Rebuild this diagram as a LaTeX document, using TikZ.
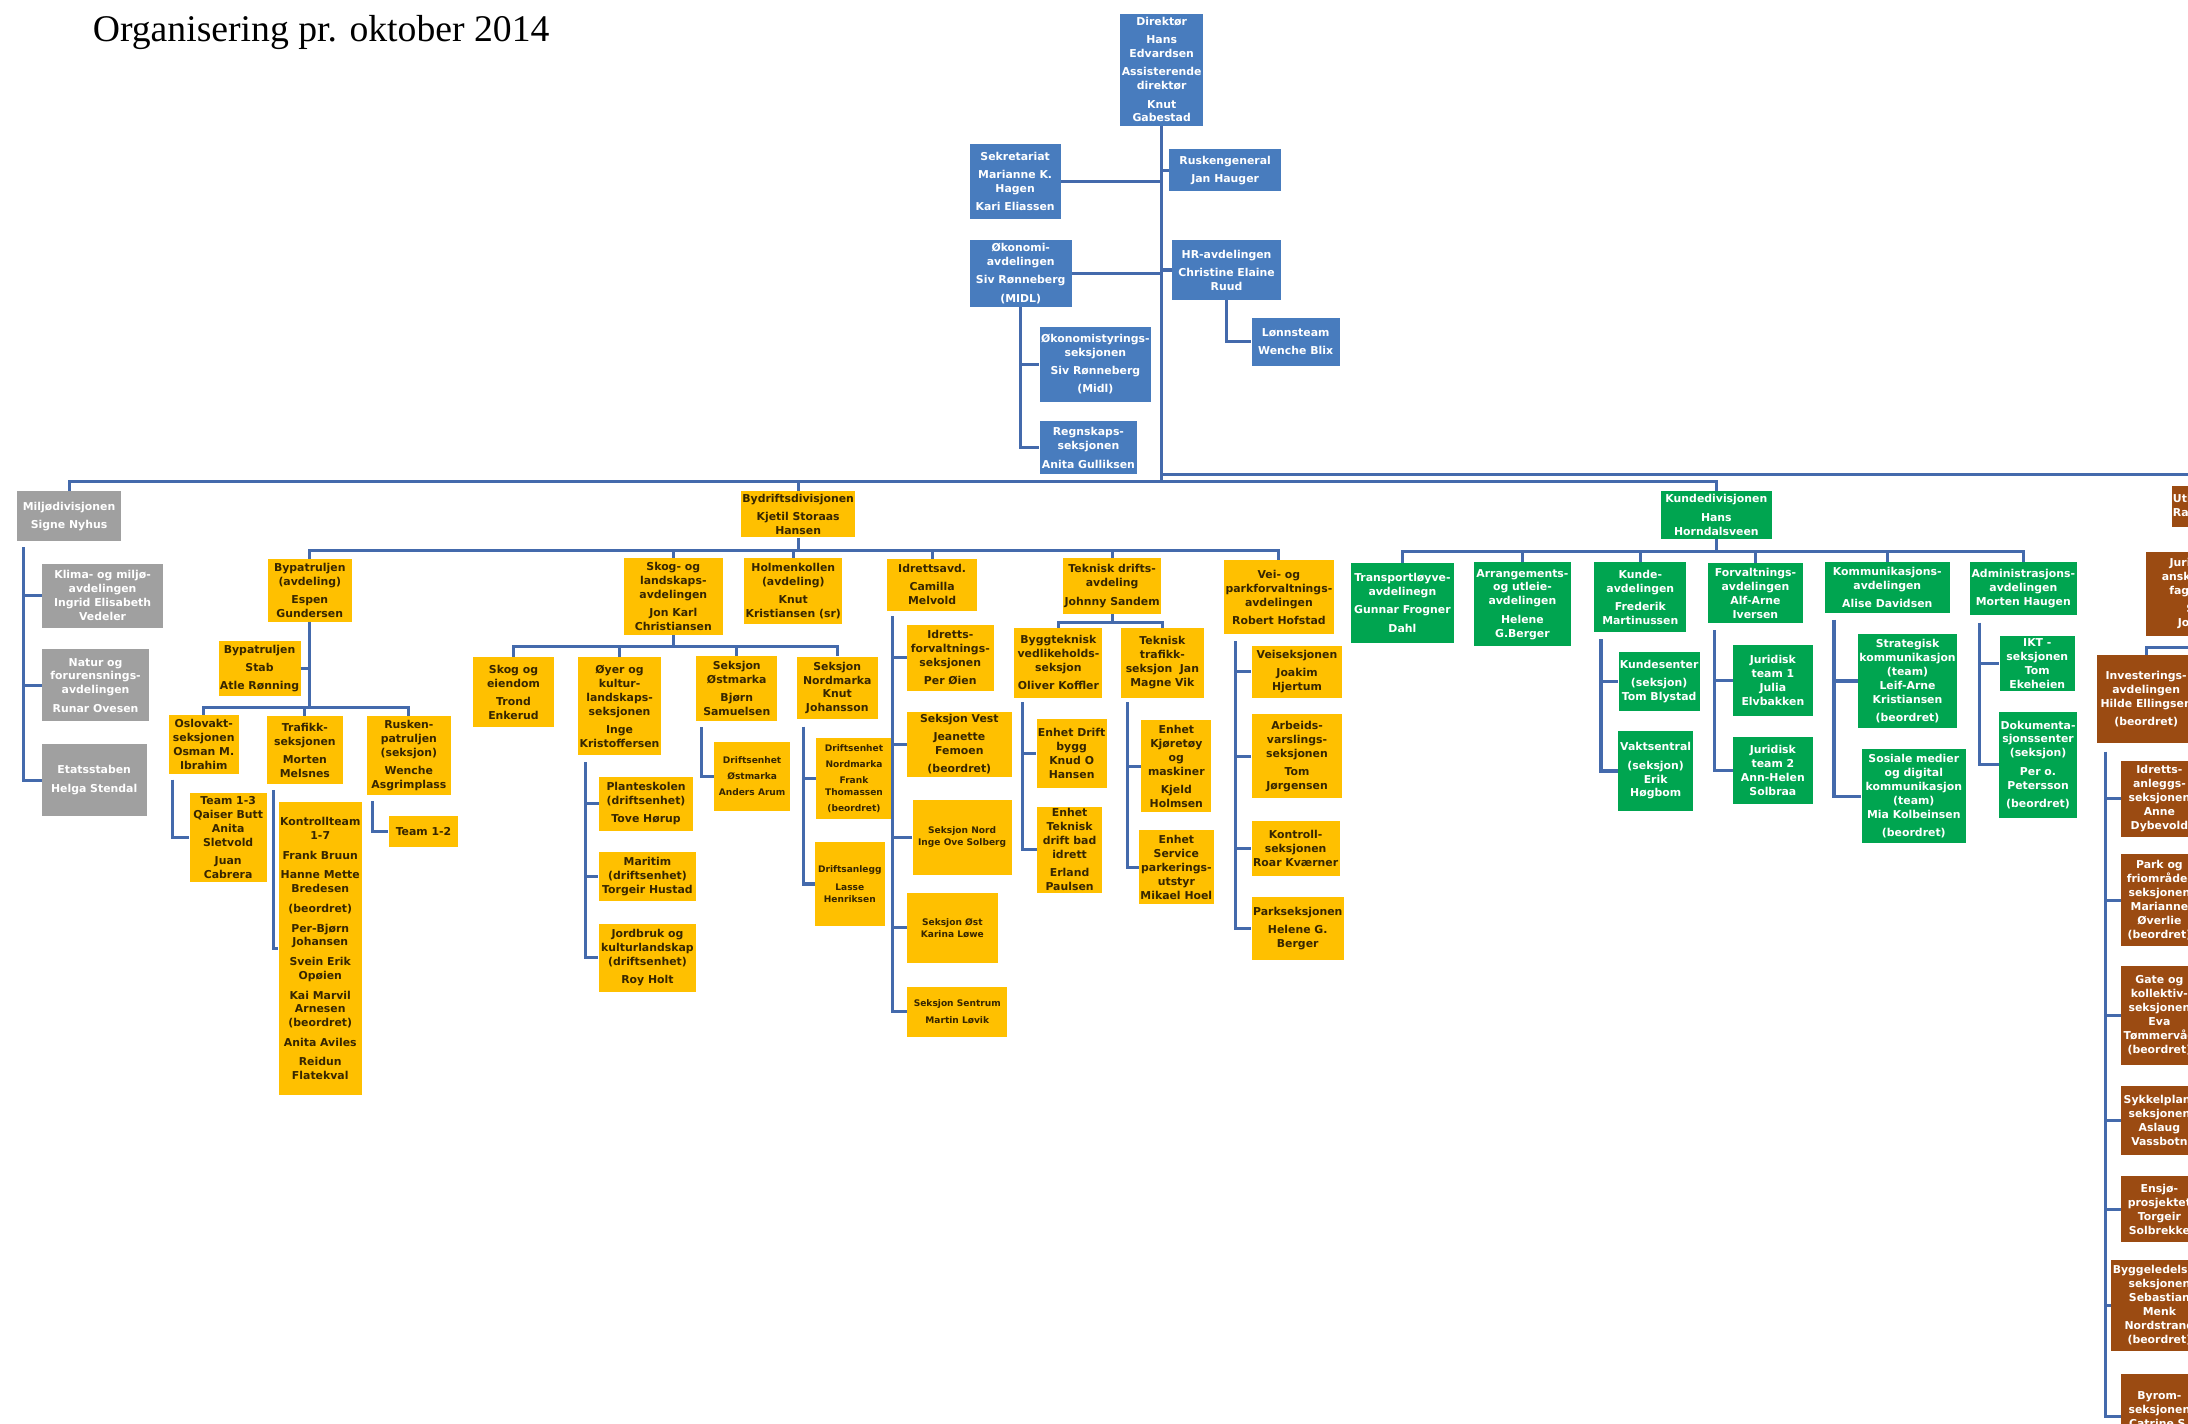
\documentclass[tikz,border=0pt]{standalone}
\usepackage{fontspec}
\setmainfont{Liberation Serif}
\newfontfamily\orgfont{DejaVu Sans}
\usetikzlibrary{positioning,calc}
\definecolor{orgblue}{RGB}{72,124,190}
\definecolor{orggray}{RGB}{160,160,160}
\definecolor{orgyellow}{RGB}{255,192,0}
\definecolor{orggreen}{RGB}{0,165,80}
\definecolor{orgbrown}{RGB}{155,75,18}
\definecolor{linkblue}{RGB}{68,106,172}
\definecolor{darktext}{RGB}{55,38,0}
\tikzset{
	orgunit/.style={rectangle,inner sep=1pt,align=center,font=\orgfont\bfseries\fontsize{7.8}{10}\selectfont},
	blueunit/.style={orgunit,fill=orgblue,text=white},
	grayunit/.style={orgunit,fill=orggray,text=white},
	yelunit/.style={orgunit,fill=orgyellow,text=darktext},
	greenunit/.style={orgunit,fill=orggreen,text=white},
	brownunit/.style={orgunit,fill=orgbrown,text=white},
	smalltext/.style={font=\orgfont\bfseries\fontsize{6.5}{8.5}\selectfont},
	boxsize/.style 2 args={minimum width=#1,minimum height=#2},
	orglink/.style={draw=linkblue,line width=2.2pt},
	titletext/.style={font=\fontsize{27}{30}\selectfont,anchor=base west}
}
\begin{document}
\begin{tikzpicture}[x=1pt,y=-1pt]
	\path[use as bounding box,fill=white] (0,0) rectangle (1568,1020);
	\node[titletext] (title) at (63,30) {Organisering pr. oktober 2014};

	%%%% direktor og stab
	\node[blueunit,boxsize={55}{80}] (dir) at (832.5,50) {Direktør\\[3pt]Hans\\Edvardsen\\[3pt]Assisterende\\direktør\\[3pt]Knut\\Gabestad};
	\node[blueunit,boxsize={65}{54}] (sekr) at (727.5,130) {Sekretariat\\[3pt]Marianne K.\\Hagen\\[3pt]Kari Eliassen};
	\node[blueunit,boxsize={80}{30}] (rusk) at (878,122) {Ruskengeneral\\[3pt]Jan Hauger};
	\node[blueunit,boxsize={73}{48}] (okon) at (731.5,196) {Økonomi-\\avdelingen\\[3pt]Siv Rønneberg\\[3pt](MIDL)};
	\node[blueunit,boxsize={78}{43}] (hr) at (879,193.5) {HR-avdelingen\\[3pt]Christine Elaine\\Ruud};
	\node[blueunit,boxsize={63}{34}] (lonn) at (928.5,245) {Lønnsteam\\[3pt]Wenche Blix};
	\node[blueunit,boxsize={80}{54}] (okst) at (785,261) {Økonomistyrings-\\seksjonen\\[3pt]Siv Rønneberg\\[3pt](Midl)};
	\node[blueunit,boxsize={70}{38}] (regn) at (780,321) {Regnskaps-\\seksjonen\\[3pt]Anita Gulliksen};

	%%%% divisjoner
	\node[grayunit,boxsize={75}{36}] (milj) at (49.5,370) {Miljødivisjonen\\[3pt]Signe Nyhus};
	\node[yelunit,boxsize={82}{33}] (bydr) at (572,368.5) {Bydriftsdivisjonen\\[3pt]Kjetil Storaas\\Hansen};
	\node[greenunit,boxsize={80}{34}] (kund) at (1230,369) {Kundedivisjonen\\[3pt]Hans\\Horndalsveen};
	\node[brownunit,boxsize={90}{30},anchor=west,align=left] (utb) at (1556,363) {Utbyggingsdivisjonen\\Ragnhild};

	%%%% miljo
	\node[grayunit,boxsize={87}{46}] (klima) at (73.5,427) {Klima- og miljø-\\avdelingen\\Ingrid Elisabeth\\Vedeler};
	\node[grayunit,boxsize={77}{52}] (natur) at (68.5,491) {Natur og\\forurensnings-\\avdelingen\\[3pt]Runar Ovesen};
	\node[grayunit,boxsize={75}{52}] (etat) at (67.5,559) {Etatsstaben\\[3pt]Helga Stendal};

	%%%% bydrift, avdelinger
	\node[yelunit,boxsize={60}{45}] (byp) at (222,423) {Bypatruljen\\(avdeling)\\[3pt]Espen\\Gundersen};
	\node[yelunit,boxsize={71}{55}] (skog) at (482.5,427.5) {Skog- og\\landskaps-\\avdelingen\\[3pt]Jon Karl\\Christiansen};
	\node[yelunit,boxsize={67}{47}] (holm) at (568.5,423.5) {Holmenkollen\\(avdeling)\\[3pt]Knut\\Kristiansen (sr)};
	\node[yelunit,boxsize={64}{37}] (idr) at (668,419) {Idrettsavd.\\[3pt]Camilla\\Melvold};
	\node[yelunit,boxsize={70}{40}] (tek) at (797,420) {Teknisk drifts-\\avdeling\\[3pt]Johnny Sandem};
	\node[yelunit,boxsize={77}{53}] (vei) at (916.5,428) {Vei- og\\parkforvaltnings-\\avdelingen\\[3pt]Robert Hofstad};

	%%%% bypatruljen
	\node[yelunit,boxsize={58}{40}] (bstab) at (186,479) {Bypatruljen\\[3pt]Stab\\[3pt]Atle Rønning};
	\node[yelunit,boxsize={50}{42}] (oslo) at (146,533.5) {Oslovakt-\\seksjonen\\Osman M.\\Ibrahim};
	\node[yelunit,boxsize={55}{49}] (traf) at (218.5,537.5) {Trafikk-\\seksjonen\\[3pt]Morten\\Melsnes};
	\node[yelunit,boxsize={60}{57}] (rsk) at (293,541.5) {Rusken-\\patruljen\\(seksjon)\\[3pt]Wenche\\Asgrimplass};
	\node[yelunit,boxsize={55}{64}] (team13) at (163.5,600) {Team 1-3\\Qaiser Butt\\Anita\\Sletvold\\[3pt]Juan\\Cabrera};
	\node[yelunit,boxsize={57}{210}] (kontr) at (229.5,680) {Kontrollteam\\1-7\\[4pt]Frank Bruun\\[4pt]Hanne Mette\\Bredesen\\[4pt](beordret)\\[4pt]Per-Bjørn\\Johansen\\[4pt]Svein Erik\\Opøien\\[4pt]Kai Marvil\\Arnesen\\(beordret)\\[4pt]Anita Aviles\\[4pt]Reidun\\Flatekval};
	\node[yelunit,boxsize={50}{22}] (team12) at (303.5,596) {Team 1-2};

	%%%% skog og landskap
	\node[yelunit,boxsize={58}{50}] (skeie) at (368,496) {Skog og\\eiendom\\[3pt]Trond\\Enkerud};
	\node[yelunit,boxsize={60}{70}] (oyer) at (444,506) {Øyer og\\kultur-\\landskaps-\\seksjonen\\[3pt]Inge\\Kristoffersen};
	\node[yelunit,boxsize={58}{47}] (ostm) at (528,493.5) {Seksjon\\Østmarka\\[3pt]Bjørn\\Samuelsen};
	\node[yelunit,boxsize={58}{45}] (nordm) at (600,493) {Seksjon\\Nordmarka\\Knut\\Johansson};
	\node[yelunit,boxsize={67}{39}] (plant) at (463,576) {Planteskolen\\(driftsenhet)\\[3pt]Tove Hørup};
	\node[yelunit,boxsize={70}{35}] (marit) at (464,628) {Maritim\\(driftsenhet)\\Torgeir Hustad};
	\node[yelunit,boxsize={70}{49}] (jord) at (464,686.5) {Jordbruk og\\kulturlandskap\\(driftsenhet)\\[3pt]Roy Holt};
	\node[yelunit,smalltext,boxsize={54}{49}] (doest) at (539,556.5) {Driftsenhet\\[3pt]Østmarka\\[3pt]Anders Arum};
	\node[yelunit,smalltext,boxsize={54}{58}] (dnord) at (612,558) {Driftsenhet\\[3pt]Nordmarka\\[3pt]Frank\\Thomassen\\[3pt](beordret)};
	\node[yelunit,smalltext,boxsize={50}{60}] (dranl) at (609,633.5) {Driftsanlegg\\[4pt]Lasse\\Henriksen};

	%%%% idrett
	\node[yelunit,boxsize={62}{47}] (idfs) at (681,471.5) {Idretts-\\forvaltnings-\\seksjonen\\[3pt]Per Øien};
	\node[yelunit,boxsize={75}{47}] (svest) at (687.5,533.5) {Seksjon Vest\\[3pt]Jeanette\\Femoen\\[3pt](beordret)};
	\node[yelunit,smalltext,boxsize={71}{54}] (snord) at (689.5,600) {Seksjon Nord\\Inge Ove Solberg};
	\node[yelunit,smalltext,boxsize={65}{50}] (sost) at (682.5,665) {Seksjon Øst\\Karina Løwe};
	\node[yelunit,smalltext,boxsize={72}{36}] (ssent) at (686,725) {Seksjon Sentrum\\[4pt]Martin Løvik};

	%%%% teknisk drift
	\node[yelunit,boxsize={63}{50}] (bygt) at (758.5,475) {Byggteknisk\\vedlikeholds-\\seksjon\\[3pt]Oliver Koffler};
	\node[yelunit,boxsize={59}{50}] (tetr) at (833,475) {Teknisk\\trafikk-\\seksjon\ \ Jan\\Magne Vik};
	\node[yelunit,boxsize={50}{50}] (edb) at (768,540) {Enhet Drift\\bygg\\Knud O\\Hansen};
	\node[yelunit,boxsize={47}{62}] (etdb) at (766.5,609) {Enhet\\Teknisk\\drift bad\\idrett\\[3pt]Erland\\Paulsen};
	\node[yelunit,boxsize={50}{66}] (ekm) at (843,549) {Enhet\\Kjøretøy\\og\\maskiner\\[3pt]Kjeld\\Holmsen};
	\node[yelunit,boxsize={50}{53}] (esp) at (843,621.5) {Enhet\\Service\\parkerings-\\utstyr\\Mikael Hoel};

	%%%% vei og park
	\node[yelunit,boxsize={65}{37}] (veis) at (929.5,481.5) {Veiseksjonen\\[3pt]Joakim\\Hjertum};
	\node[yelunit,boxsize={65}{60}] (arbv) at (929.5,542) {Arbeids-\\varslings-\\seksjonen\\[3pt]Tom\\Jørgensen};
	\node[yelunit,boxsize={63}{40}] (kontrs) at (928.5,608) {Kontroll-\\seksjonen\\Roar Kværner};
	\node[yelunit,boxsize={66}{45}] (parks) at (930,665.5) {Parkseksjonen\\[3pt]Helene G.\\Berger};

	%%%% kunde
	\node[greenunit,boxsize={74}{57}] (transp) at (1005,432) {Transportløyve-\\avdelinegn\\[3pt]Gunnar Frogner\\[3pt]Dahl};
	\node[greenunit,boxsize={70}{60}] (arr) at (1091,433) {Arrangements-\\og utleie-\\avdelingen\\[3pt]Helene\\G.Berger};
	\node[greenunit,boxsize={66}{50}] (kavd) at (1175.5,428) {Kunde-\\avdelingen\\[3pt]Frederik\\Martinussen};
	\node[greenunit,boxsize={68}{43}] (forv) at (1258,425) {Forvaltnings-\\avdelingen\\Alf-Arne\\Iversen};
	\node[greenunit,boxsize={90}{36}] (komm) at (1352.5,421) {Kommunikasjons-\\avdelingen\\[3pt]Alise Davidsen};
	\node[greenunit,boxsize={76}{38}] (adm) at (1450,422) {Administrasjons-\\avdelingen\\Morten Haugen};
	\node[greenunit,boxsize={58}{42}] (ksent) at (1189,488.5) {Kundesenter\\[3pt](seksjon)\\Tom Blystad};
	\node[greenunit,boxsize={54}{57}] (vakt) at (1186.5,552.5) {Vaktsentral\\[3pt](seksjon)\\Erik\\Høgbom};
	\node[greenunit,boxsize={57}{51}] (jur1) at (1270.5,487.5) {Juridisk\\team 1\\Julia\\Elvbakken};
	\node[greenunit,boxsize={57}{48}] (jur2) at (1270.5,552) {Juridisk\\team 2\\Ann-Helen\\Solbraa};
	\node[greenunit,boxsize={70}{68}] (strat) at (1367,488) {Strategisk\\kommunikasjon\\(team)\\Leif-Arne\\Kristiansen\\[3pt](beordret)};
	\node[greenunit,boxsize={75}{67}] (sosial) at (1371.5,570.5) {Sosiale medier\\og digital\\kommunikasjon\\(team)\\Mia Kolbeinsen\\[3pt](beordret)};
	\node[greenunit,boxsize={54}{39}] (ikt) at (1460,475.5) {IKT -\\seksjonen\\Tom\\Ekeheien};
	\node[greenunit,boxsize={55}{76}] (dok) at (1460.5,548) {Dokumenta-\\sjonssenter\\(seksjon)\\[3pt]Per o.\\Petersson\\[3pt](beordret)};

	%%%% utbygging
	\node[brownunit,boxsize={80}{60},anchor=west] (jurb) at (1538,425.5) {Juridisk og\\anskaffelses-\\faglig stab\\[3pt]Stein\\Johnsen};
	\node[brownunit,boxsize={70}{63}] (inv) at (1538,501) {Investerings-\\avdelingen\\Hilde Ellingsen\\[3pt](beordret)};
	\node[brownunit,boxsize={55}{55}] (ianl) at (1547.5,572.5) {Idretts-\\anleggs-\\seksjonen\\Anne\\Dybevold};
	\node[brownunit,boxsize={55}{66}] (park) at (1547.5,645) {Park og\\friområde-\\seksjonen\\Marianne\\Øverlie\\(beordret)};
	\node[brownunit,boxsize={55}{71}] (gate) at (1547.5,727.5) {Gate og\\kollektiv-\\seksjonen\\Eva\\Tømmervåg\\(beordret)};
	\node[brownunit,boxsize={55}{50}] (sykk) at (1547.5,803) {Sykkelplan-\\seksjonen\\Aslaug\\Vassbotn};
	\node[brownunit,boxsize={55}{47}] (ensj) at (1547.5,866.5) {Ensjø-\\prosjektet\\Torgeir\\Solbrekke};
	\node[brownunit,boxsize={55}{65}] (bygl) at (1547.5,935.5) {Byggeledelses-\\seksjonen\\Sebastian\\Menk\\Nordstrand\\(beordret)};
	\node[brownunit,boxsize={55}{60}] (byrom) at (1547.5,1015) {Byrom-\\seksjonen\\Catrine S.\\ };

	%%%% linjer, topp
	\draw[orglink] (dir.south) -- ++(0,255) -| (milj.north)
		(dir.south) -- ++(0,255) -| (bydr.north)
		(dir.south) -- ++(0,255) -| (kund.north);
	\draw[orglink] (dir.south) -- ++(0,250) -| (utb.north);
	\draw[orglink] (sekr.east) -- (sekr.east -| dir.south)
		(okon.east) -- (okon.east -| dir.south)
		(rusk.west) -- (rusk.west -| dir.south)
		(hr.west) -- (hr.west -| dir.south);
	\draw[orglink] (hr.south) |- (lonn.west);
	\draw[orglink] (okon.south) |- (okst.west)
		(okon.south) |- (regn.west);

	%%%% miljo
	\coordinate (miljS) at ($(milj.south west)+(5,4)$);
	\draw[orglink] (miljS) |- (klima.west) (miljS) |- (natur.west) (miljS) |- (etat.west);

	%%%% bydrift
	\coordinate (bydrB) at ($(bydr.south)+(0,9)$);
	\draw[orglink] (bydr.south) -- (bydrB) -| (byp.north)
		(bydrB) -| (skog.north) (bydrB) -| (holm.north)
		(bydrB) -| (idr.north) (bydrB) -| (tek.north) (bydrB) -| (vei.north);
	\coordinate (bypB) at ($(byp.south)+(0,61)$);
	\draw[orglink] (byp.south) -- (bypB) -| (oslo.north)
		(bypB) -| (traf.north) (bypB) -| (rsk.north);
	\draw[orglink] (bstab.east) -- (bstab.east -| byp.south);
	\draw[orglink] ($(oslo.south west)+(3,4)$) |- (team13.west);
	\draw[orglink] ($(traf.south west)+(5,4)$) |- (kontr.west);
	\draw[orglink] ($(rsk.south west)+(4,4)$) |- (team12.west);

	\coordinate (skogB) at ($(skog.south)+(0,8)$);
	\draw[orglink] (skog.south) -- (skogB) -| (skeie.north)
		(skogB) -| (oyer.north) (skogB) -| (ostm.north) (skogB) -| (nordm.north);
	\coordinate (oyerS) at ($(oyer.south west)+(6,5)$);
	\draw[orglink] (oyerS) |- (plant.west) (oyerS) |- (marit.west) (oyerS) |- (jord.west);
	\draw[orglink] ($(ostm.south west)+(4,4)$) |- (doest.west);
	\coordinate (nordmS) at ($(nordm.south west)+(5,5)$);
	\draw[orglink] (nordmS) |- (dnord.west) (nordmS) |- (dranl.west);

	\coordinate (idrS) at ($(idr.south west)+(4,4)$);
	\draw[orglink] (idrS) |- (idfs.west) (idrS) |- (svest.west) (idrS) |- (snord.west)
		(idrS) |- (sost.west) (idrS) |- (ssent.west);

	\coordinate (tekB) at ($(tek.south)+(0,6)$);
	\draw[orglink] (tek.south) -- (tekB) -| (bygt.north) (tekB) -| (tetr.north);
	\coordinate (bygtS) at ($(bygt.south west)+(6,3)$);
	\draw[orglink] (bygtS) |- (edb.west) (bygtS) |- (etdb.west);
	\coordinate (tetrS) at ($(tetr.south west)+(5,3)$);
	\draw[orglink] (tetrS) |- (ekm.west) (tetrS) |- (esp.west);

	\coordinate (veiS) at ($(vei.south west)+(8,5)$);
	\draw[orglink] (veiS) |- (veis.west) (veiS) |- (arbv.west)
		(veiS) |- (kontrs.west) (veiS) |- (parks.west);

	%%%% kunde
	\coordinate (kundB) at ($(kund.south)+(0,9)$);
	\draw[orglink] (kund.south) -- (kundB) -| (transp.north)
		(kundB) -| (arr.north) (kundB) -| (kavd.north)
		(kundB) -| (forv.north) (kundB) -| (komm.north) (kundB) -| (adm.north);
	\coordinate (kavdS) at ($(kavd.south west)+(5,5)$);
	\draw[orglink] (kavdS) |- (ksent.west) (kavdS) |- (vakt.west);
	\coordinate (forvS) at ($(forv.south west)+(5,5)$);
	\draw[orglink] (forvS) |- (jur1.west) (forvS) |- (jur2.west);
	\coordinate (kommS) at ($(komm.south west)+(7,5)$);
	\draw[orglink] (kommS) |- (strat.west) (kommS) |- (sosial.west);
	\coordinate (admS) at ($(adm.south west)+(7,5)$);
	\draw[orglink] (admS) |- (ikt.west) (admS) |- (dok.west);

	%%%% utbygging
	\draw[orglink] (utb.south) -- ++(0,86) -| (inv.north);
	\coordinate (invS) at ($(inv.south west)+(6,6)$);
	\draw[orglink] (invS) |- (ianl.west) (invS) |- (park.west) (invS) |- (gate.west)
		(invS) |- (sykk.west) (invS) |- (ensj.west) (invS) |- (bygl.west) (invS) |- (byrom.west);
\end{tikzpicture}
\end{document}
